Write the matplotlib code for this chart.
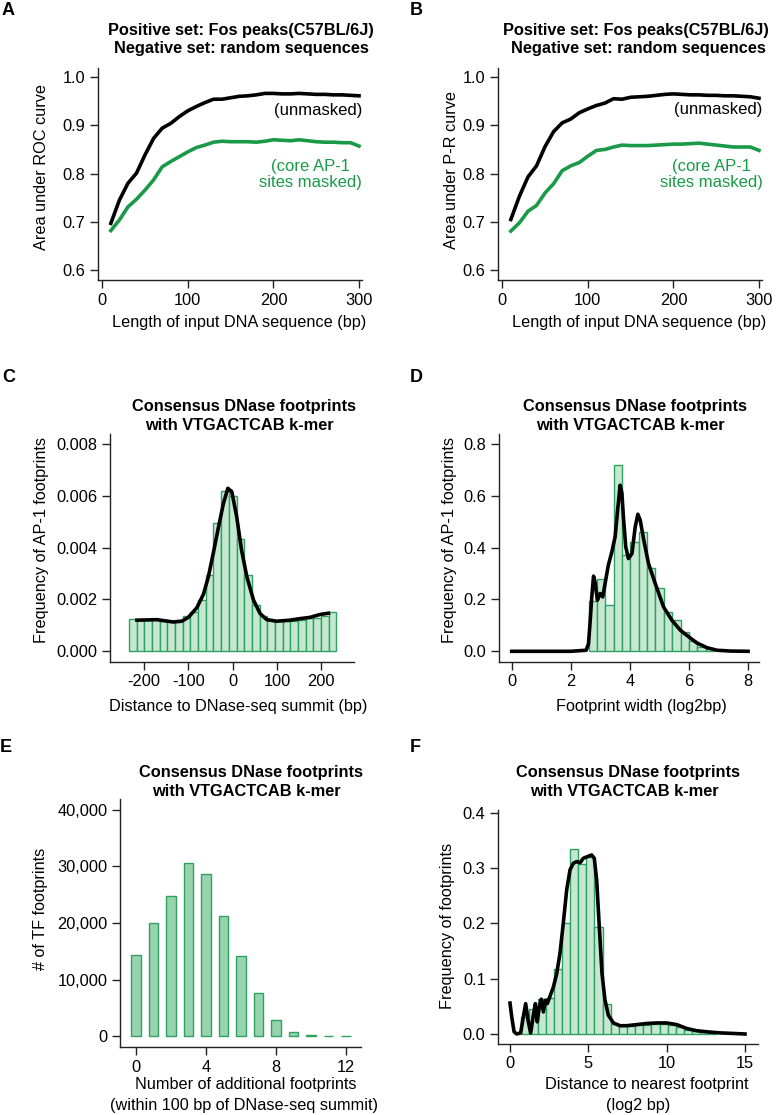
import numpy as np
import matplotlib
matplotlib.use("Agg")
import matplotlib.pyplot as plt
from matplotlib.ticker import FuncFormatter

plt.rcParams['font.family'] = ['Liberation Sans', 'DejaVu Sans']
plt.rcParams['axes.unicode_minus'] = False

# ---- data: panels A/B (AUC vs input length) ----
seq_len = list(range(10, 301, 10))
roc_unmasked = [0.697, 0.745, 0.780, 0.801, 0.839, 0.873, 0.894, 0.904, 0.918, 0.930,
                0.939, 0.947, 0.954, 0.954, 0.957, 0.960, 0.961, 0.963, 0.966, 0.966,
                0.965, 0.965, 0.966, 0.965, 0.964, 0.964, 0.963, 0.963, 0.962, 0.961]
roc_masked = [0.682, 0.704, 0.731, 0.747, 0.766, 0.787, 0.814, 0.825, 0.835, 0.845,
              0.854, 0.859, 0.865, 0.867, 0.866, 0.866, 0.866, 0.865, 0.867, 0.870,
              0.869, 0.868, 0.870, 0.868, 0.866, 0.865, 0.865, 0.864, 0.864, 0.857]
pr_unmasked = [0.705, 0.753, 0.793, 0.816, 0.856, 0.887, 0.905, 0.913, 0.926, 0.934,
               0.941, 0.946, 0.955, 0.954, 0.958, 0.959, 0.960, 0.962, 0.964, 0.965,
               0.964, 0.963, 0.963, 0.962, 0.962, 0.961, 0.961, 0.960, 0.959, 0.956]
pr_masked = [0.681, 0.698, 0.722, 0.734, 0.760, 0.779, 0.806, 0.816, 0.823, 0.836,
             0.848, 0.850, 0.855, 0.859, 0.858, 0.858, 0.858, 0.859, 0.860, 0.861,
             0.861, 0.862, 0.863, 0.861, 0.859, 0.857, 0.855, 0.855, 0.855, 0.848]

# ---- data: panel C (distance to summit) ----
c_hist = [1.26, 1.20, 1.22, 1.24, 1.17, 1.16, 1.22, 1.35, 1.52, 1.97, 2.94, 4.97, 6.20, 6.00,
          4.32, 2.94, 1.78, 1.35, 1.20, 1.16, 1.16, 1.18, 1.20, 1.28, 1.30, 1.38, 1.52]
c_hist = [v / 1000 for v in c_hist]
c_curve_x = [-216, -171, -134, -115, -100, -81, -66, -55, -44, -32, -21, -11, -2, 9, 20,
             32, 47, 62, 77, 99, 129, 152, 175, 197, 216]
c_curve_y = [1.20, 1.22, 1.13, 1.16, 1.31, 1.68, 2.20, 2.87, 3.77, 4.80, 5.70, 6.29, 6.16,
             5.19, 3.90, 2.87, 1.97, 1.45, 1.22, 1.16, 1.20, 1.26, 1.31, 1.42, 1.47]
c_curve_y = [v / 1000 for v in c_curve_y]

# ---- data: panel D (footprint width) ----
d_hist = [0.193, 0.278, 0.178, 0.719, 0.371, 0.422, 0.459, 0.323, 0.246, 0.152,
          0.120, 0.075, 0.039, 0.017, 0.007]
d_curve_x = [0, 1.0, 2.0, 2.52, 2.60, 2.65, 2.71, 2.77, 2.82, 2.90, 2.99, 3.08, 3.16, 3.27,
             3.39, 3.50, 3.59, 3.67, 3.73, 3.78, 3.86, 3.95, 4.07, 4.18, 4.27, 4.35, 4.46,
             4.63, 4.86, 5.14, 5.42, 5.71, 5.99, 6.27, 6.61, 6.95, 7.4, 8.0]
d_curve_y = [0, 0, 0, 0.004, 0.03, 0.107, 0.21, 0.29, 0.268, 0.197, 0.223, 0.21, 0.261,
             0.332, 0.384, 0.442, 0.551, 0.641, 0.61, 0.519, 0.403, 0.358, 0.377, 0.48,
             0.529, 0.506, 0.435, 0.339, 0.261, 0.171, 0.12, 0.081, 0.056, 0.032, 0.014,
             0.004, 0.001, 0.0]

# ---- data: panel E (additional footprints) ----
e_counts = list(range(0, 13))
e_values = [14280, 19940, 24720, 30560, 28610, 21240, 14100, 7610, 2950, 830, 180, 60, 60]

# ---- data: panel F (distance to nearest footprint) ----
f_hist = [0.031, 0.045, 0.063, 0.066, 0.117, 0.200, 0.334, 0.308, 0.321, 0.193, 0.055,
          0.018, 0.016, 0.015, 0.016, 0.017, 0.018, 0.018, 0.016, 0.012, 0.008, 0.005,
          0.003, 0.002]
f_curve_x = [0, 0.11, 0.26, 0.43, 0.68, 0.85, 1.0, 1.17, 1.32, 1.49, 1.62, 1.74, 1.87, 2.0,
             2.13, 2.26, 2.38, 2.55, 2.77, 2.98, 3.19, 3.4, 3.62, 3.83, 4.04, 4.26, 4.47,
             4.68, 4.94, 5.21, 5.38, 5.53, 5.7, 5.87, 6.06, 6.28, 6.6, 7.02, 7.45, 8.09,
             8.72, 9.36, 10.0, 10.64, 11.28, 11.9, 12.55, 13.4, 14.26, 15.0]
f_curve_y = [0.056, 0.031, 0.004, 0.0, 0.002, 0.031, 0.055, 0.022, 0.002, 0.034, 0.055,
             0.022, 0.049, 0.063, 0.040, 0.061, 0.055, 0.068, 0.085, 0.109, 0.146, 0.200,
             0.261, 0.297, 0.309, 0.312, 0.310, 0.318, 0.321, 0.324, 0.318, 0.279, 0.194,
             0.110, 0.062, 0.034, 0.020, 0.015, 0.015, 0.017, 0.019, 0.020, 0.020, 0.017,
             0.010, 0.006, 0.004, 0.002, 0.001, 0.0]

# ---- styling ----
W, H = 776, 1115
GREEN = '#1a9a48'
FILL_LIGHT = '#c6e7d0'
EDGE = '#2fa160'
FILL_E = '#97d3ad'
TICK_FS = 11.8
LAB_FS = 11.7
TITLE_FS = 11.8
NOTE_FS = 12

fig = plt.figure(figsize=(W / 100, H / 100), dpi=100)


def px_axes(l, t, r, b):
    ax = fig.add_axes([l / W, 1 - b / H, (r - l) / W, (b - t) / H])
    for s in ['top', 'right']:
        ax.spines[s].set_visible(False)
    for s in ['left', 'bottom']:
        ax.spines[s].set_linewidth(1.0)
        ax.spines[s].set_color('#222222')
    ax.tick_params(length=6, width=1, pad=3, labelsize=TICK_FS, color='#222222')
    return ax


def ftext(x, y, s, **kw):
    kw.setdefault('ha', 'center')
    kw.setdefault('va', 'center')
    fig.text(x / W, 1 - y / H, s, **kw)


def letter(x, y, s):
    ftext(x, y, s, ha='left', va='top', fontsize=13, fontweight='bold')


def title2(cx1, cx2, y1, y2, l1, l2):
    ftext(cx1, y1, l1, fontsize=TITLE_FS, fontweight='bold')
    ftext(cx2, y2, l2, fontsize=TITLE_FS, fontweight='bold')


# Panel A
axA = px_axes(98, 68, 362, 280)
axA.plot(seq_len, roc_unmasked, color='black', lw=2.6)
axA.plot(seq_len, roc_masked, color=GREEN, lw=2.6)
axA.set_xlim(-5, 303.5)
axA.set_ylim(0.5797, 1.0186)
axA.set_xticks([0, 100, 200, 300])
axA.set_yticks([0.6, 0.7, 0.8, 0.9, 1.0])
axA.yaxis.set_major_formatter(FuncFormatter(lambda v, p: f"{v:.1f}"))
axA.text(303.5, 0.930, "(unmasked)", ha='right', va='center', fontsize=NOTE_FS)
axA.text(243, 0.798, "(core AP-1\nsites masked)", ha='center', va='center',
         fontsize=NOTE_FS, color=GREEN, linespacing=1.05)
letter(2, 2, "A")
title2(241, 241, 31, 49, "Positive set: Fos peaks(C57BL/6J)", "Negative set: random sequences")
ftext(41.5, 167, "Area under ROC curve", rotation=90, fontsize=LAB_FS)
ftext(239, 322, "Length of input DNA sequence (bp)", fontsize=LAB_FS)

# Panel B
axB = px_axes(498, 68, 762, 280)
axB.plot(seq_len, pr_unmasked, color='black', lw=2.6)
axB.plot(seq_len, pr_masked, color=GREEN, lw=2.6)
axB.set_xlim(-5, 303.5)
axB.set_ylim(0.5797, 1.0186)
axB.set_xticks([0, 100, 200, 300])
axB.set_yticks([0.6, 0.7, 0.8, 0.9, 1.0])
axB.yaxis.set_major_formatter(FuncFormatter(lambda v, p: f"{v:.1f}"))
axB.text(303.5, 0.932, "(unmasked)", ha='right', va='center', fontsize=NOTE_FS)
axB.text(244, 0.798, "(core AP-1\nsites masked)", ha='center', va='center',
         fontsize=NOTE_FS, color=GREEN, linespacing=1.05)
letter(410, 2, "B")
title2(636, 638, 31, 49, "Positive set: Fos peaks(C57BL/6J)", "Negative set: random sequences")
ftext(451, 170, "Area under P-R curve", rotation=90, fontsize=LAB_FS)
ftext(639, 322, "Length of input DNA sequence (bp)", fontsize=LAB_FS)

# Panel C
axC = px_axes(110, 434, 354, 662)
c_w = 468 / len(c_hist)
c_left = [-234 + i * c_w for i in range(len(c_hist))]
axC.bar(c_left, c_hist, width=c_w, align='edge', color=FILL_LIGHT, edgecolor=EDGE, lw=1.0)
axC.plot(c_curve_x, c_curve_y, color='black', lw=2.6)
axC.set_xlim(-276.8, 273.6)
axC.set_ylim(-0.000414, 0.008386)
axC.set_xticks([-200, -100, 0, 100, 200])
axC.set_yticks([0, 0.002, 0.004, 0.006, 0.008])
axC.yaxis.set_major_formatter(FuncFormatter(lambda v, p: f"{v:.3f}"))
letter(2, 369, "C")
title2(243.5, 239, 406, 425, "Consensus DNase footprints", "with VTGACTCAB k-mer")
ftext(41.5, 540, "Frequency of AP-1 footprints", rotation=90, fontsize=LAB_FS)
ftext(238, 706, "Distance to DNase-seq summit (bp)", fontsize=LAB_FS)

# Panel D
axD = px_axes(499, 434, 759, 662)
d_w = 0.2833
d_left = [2.6 + i * d_w for i in range(len(d_hist))]
axD.bar(d_left, d_hist, width=d_w, align='edge', color=FILL_LIGHT, edgecolor=EDGE, lw=1.0)
axD.plot(d_curve_x, d_curve_y, color='black', lw=2.6)
axD.set_xlim(-0.43, 8.37)
axD.set_ylim(-0.0413, 0.8386)
axD.set_xticks([0, 2, 4, 6, 8])
axD.set_yticks([0, 0.2, 0.4, 0.6, 0.8])
axD.yaxis.set_major_formatter(FuncFormatter(lambda v, p: f"{v:.1f}"))
letter(410, 369, "D")
title2(635, 630.5, 406, 425, "Consensus DNase footprints", "with VTGACTCAB k-mer")
ftext(449.5, 540, "Frequency of AP-1 footprints", rotation=90, fontsize=LAB_FS)
ftext(641, 706, "Footprint width (log2bp)", fontsize=LAB_FS)

# Panel E
axE = px_axes(120, 799, 361, 1047)
axE.bar(e_counts, e_values, width=0.52, color=FILL_E, edgecolor=EDGE, lw=1.0)
axE.set_xlim(-0.914, 12.86)
axE.set_ylim(-1894, 41894)
axE.set_xticks([0, 4, 8, 12])
axE.set_yticks([0, 10000, 20000, 30000, 40000])
axE.yaxis.set_major_formatter(FuncFormatter(lambda v, p: f"{int(v):,}"))
letter(0, 739, "E")
title2(251, 246, 772, 792, "Consensus DNase footprints", "with VTGACTCAB k-mer")
ftext(40, 909, "# of TF footprints", rotation=90, fontsize=LAB_FS)
ftext(246, 1085, "Number of additional footprints", fontsize=LAB_FS)
ftext(243.5, 1105.5, "(within 100 bp of DNase-seq summit)", fontsize=LAB_FS)

# Panel F
axF = px_axes(498, 810, 758, 1044)
f_w = 0.519
f_left = [0.72 + i * f_w for i in range(len(f_hist))]
axF.bar(f_left, f_hist, width=f_w, align='edge', color=FILL_LIGHT, edgecolor=EDGE, lw=1.0)
axF.plot(f_curve_x, f_curve_y, color='black', lw=2.6)
axF.set_xlim(-0.766, 15.83)
axF.set_ylim(-0.0181, 0.4054)
axF.set_xticks([0, 5, 10, 15])
axF.set_yticks([0, 0.1, 0.2, 0.3, 0.4])
axF.yaxis.set_major_formatter(FuncFormatter(lambda v, p: f"{v:.1f}"))
letter(410, 739, "F")
title2(628.5, 624, 773, 792, "Consensus DNase footprints", "with VTGACTCAB k-mer")
ftext(447.5, 926, "Frequency of footprints", rotation=90, fontsize=LAB_FS)
ftext(647, 1085, "Distance to nearest footprint", fontsize=LAB_FS)
ftext(638, 1105.5, "(log2 bp)", fontsize=LAB_FS)

fig.savefig("out.png", dpi=100)
